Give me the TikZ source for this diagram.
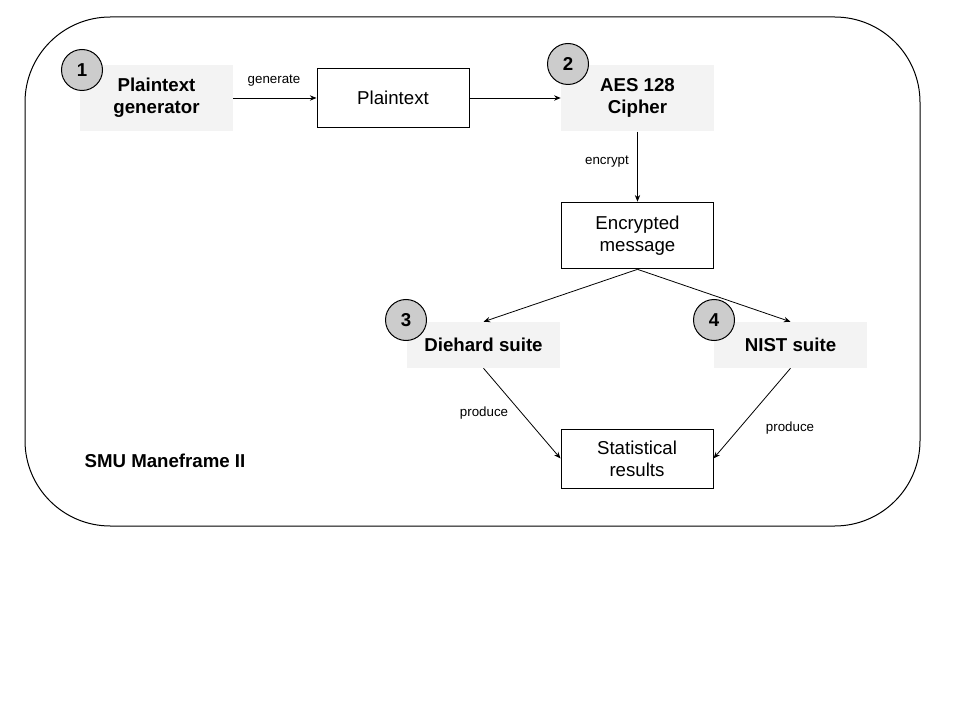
\documentclass[tikz,border=0pt]{standalone}
\usepackage{fontspec}
\setmainfont{Liberation Sans}
\usetikzlibrary{arrows, arrows.meta}
\usetikzlibrary{calc}

\definecolor{stagegray}{HTML}{F3F3F3}
\definecolor{badgegray}{HTML}{CCCCCC}

\tikzset{
  stage/.style={fill=stagegray, minimum width=114.75pt, inner sep=0pt, align=center, font=\fontsize{14}{16.5}\selectfont\bfseries},
  block/.style={draw, line width=0.75pt, minimum width=114pt, minimum height=44.25pt, inner sep=0pt, align=center, font=\fontsize{14}{16.5}\selectfont},
  badge/.style={circle, draw, line width=0.75pt, fill=badgegray, minimum size=30.75pt, inner sep=0pt, font=\fontsize{14}{16}\selectfont\bfseries},
  flow/.style={-{Stealth[length=5pt, width=4pt]}, line width=0.6pt},
  lbl/.style={font=\fontsize{10}{12}\selectfont}
}

\begin{document}
\begin{tikzpicture}[x=0.75pt, y=-0.75pt]
  \useasboundingbox (0,0) rectangle (960,720);
  \draw[line width=0.75pt, rounded corners=64pt] (25,17) rectangle (920,526);

  \node[stage, minimum height=49.5pt] (gen) at (156.5,98) {Plaintext\\generator};
  \node[stage, minimum height=50pt] (aes) at (637.5,98) {AES 128\\Cipher};
  \node[stage, minimum height=34.5pt] (die) at (483.5,345) {Diehard suite};
  \node[stage, minimum height=34.5pt] (nist) at (790.5,345) {NIST suite};

  \node[block] (plain) at (393,98) {Plaintext};
  \node[block, minimum height=50pt] (enc) at (637.5,235.5) {Encrypted\\message};
  \node[block] (stat) at (637,458.5) {Statistical\\results};

  \node[badge] (b1) at (82,70) {1};
  \node[badge] (b2) at (568,64) {2};
  \node[badge] (b3) at (406,320) {3};
  \node[badge] (b4) at (714,320) {4};

  \node[font=\fontsize{14}{16}\selectfont\bfseries] (smu) at (165,461) {SMU Maneframe II};

  \draw[flow] (gen.east) -- (plain.west);
  \draw[flow] (plain.east) -- (aes.west);
  \draw[flow] (aes.south) -- (enc.north);
  \draw[flow] (enc.south) -- (die.north);
  \draw[flow] (enc.south) -- (nist.north);
  \draw[flow] (die.south) -- (stat.west);
  \draw[flow] (nist.south) -- (stat.east);

  \node[lbl] (lgen) at (274,81) {generate};
  \node[lbl] (lenc) at (607,162) {encrypt};
  \node[lbl] (lpro1) at (484,413) {produce};
  \node[lbl] (lpro2) at (790,428) {produce};
\end{tikzpicture}
\end{document}
